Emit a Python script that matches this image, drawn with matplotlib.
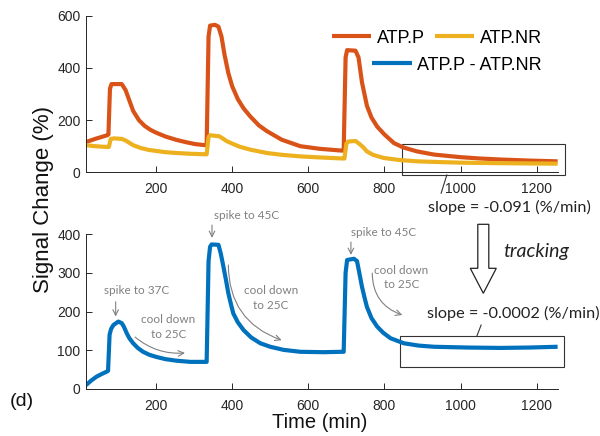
import matplotlib
matplotlib.use("Agg")
import matplotlib.pyplot as plt
from matplotlib.patches import Rectangle, FancyArrow

plt.rcParams['font.family'] = ['Liberation Sans', 'DejaVu Sans']

# ATP.P (top, orange)
t_p = [16, 40, 72, 75, 79, 83, 110, 120, 130, 140, 155, 170, 185, 200, 225, 254, 280, 303, 329,
       333, 338, 342, 355, 364, 372, 380, 390, 400, 415, 430, 447, 470, 491, 530, 579, 630, 689,
       693, 698, 702, 724, 732, 741, 754, 766, 781, 800, 825, 850, 886, 930, 1000, 1050, 1105, 1180, 1255]
atp_p = [116, 128, 142, 145, 320, 338, 338, 315, 275, 235, 200, 178, 163, 152, 137, 124, 115, 108, 104,
         104, 520, 562, 565, 558, 520, 450, 380, 330, 280, 245, 215, 180, 158, 125, 100, 90, 83,
         84, 440, 468, 466, 440, 345, 255, 210, 175, 145, 112, 95, 80, 68, 58, 53, 49, 45, 42]

# ATP.NR (top, yellow)
t_nr = [16, 40, 72, 76, 81, 90, 110, 120, 130, 140, 160, 180, 200, 225, 254, 290, 329,
        333, 338, 342, 366, 375, 385, 400, 420, 447, 491, 530, 579, 630, 689,
        695, 700, 705, 724, 735, 745, 754, 770, 798, 840, 886, 950, 1000, 1100, 1255]
atp_nr = [104, 100, 97, 97, 128, 130, 128, 122, 113, 104, 93, 86, 82, 77, 74, 71, 69,
          69, 135, 142, 138, 130, 120, 110, 98, 87, 74, 67, 61, 57, 53,
          53, 110, 118, 120, 108, 95, 80, 67, 55, 47, 42, 39, 37, 35, 33]

# ATP.P - ATP.NR (bottom, blue)
t_d = [16, 30, 44, 60, 71, 74, 78, 82, 88, 101, 110, 116, 123, 130, 140, 152, 166, 183, 200, 225, 254, 290, 329,
       333, 338, 342, 346, 364, 370, 377, 384, 390, 397, 403, 415, 430, 450, 474, 500, 535, 579, 640, 689,
       693, 698, 702, 720, 728, 734, 741, 748, 754, 766, 781, 797, 816, 851, 890, 930, 1018, 1105, 1180, 1255]
atp_diff = [10, 22, 32, 40, 45, 47, 140, 155, 165, 174, 170, 160, 144, 131, 118, 106, 96, 88, 83, 77, 73, 70, 70,
            70, 330, 367, 373, 372, 350, 316, 280, 247, 218, 195, 172, 152, 133, 118, 109, 101, 96, 95, 96,
            96, 300, 333, 336, 330, 300, 264, 235, 212, 183, 161, 145, 131, 118, 112, 109, 107, 106, 107, 109]

x_ticks = [200, 400, 600, 800, 1000, 1200]
top_yticks = [0, 200, 400, 600]
bot_yticks = [0, 100, 200, 300, 400]

ORANGE = '#D95319'
YELLOW = '#EDB120'
BLUE = '#0072BD'
AXC = '#262626'
GREY = '#808080'
ANN_FONT = ['Lato', 'DejaVu Sans']

fig = plt.figure(figsize=(6, 4.36), dpi=100)
ax1 = fig.add_axes([0.1433, 0.6048, 0.7867, 0.3592])
ax2 = fig.add_axes([0.1433, 0.1078, 0.7867, 0.3555])

for ax in (ax1, ax2):
    ax.spines['top'].set_visible(False)
    ax.spines['right'].set_visible(False)
    for s in ('left', 'bottom'):
        ax.spines[s].set_color(AXC)
        ax.spines[s].set_linewidth(0.7)
    ax.set_xlim(16, 1256)
    ax.set_xticks(x_ticks)
    ax.tick_params(direction='in', length=4, width=0.7, colors=AXC, labelsize=10)
    ax.tick_params(axis='x', pad=7)
    ax.tick_params(axis='y', pad=4)

l1, = ax1.plot(t_p, atp_p, color=ORANGE, lw=3, solid_capstyle='butt')
l2, = ax1.plot(t_nr, atp_nr, color=YELLOW, lw=3, solid_capstyle='butt')
ax1.set_ylim(0, 600)
ax1.set_yticks(top_yticks)

l3, = ax2.plot(t_d, atp_diff, color=BLUE, lw=3, solid_capstyle='butt')
ax2.set_ylim(0, 400)
ax2.set_yticks(bot_yticks)

# legend: two right-aligned rows
leg1 = ax1.legend([l1, l2], ['ATP.P', 'ATP.NR'], ncol=2, frameon=False, fontsize=13,
                  handlelength=2.2, handletextpad=0.3, columnspacing=0.55, borderpad=0,
                  borderaxespad=0, loc='center right',
                  bbox_to_anchor=(5.42, (436 - 38) / 100), bbox_transform=fig.dpi_scale_trans)
ax1.add_artist(leg1)
ax1.legend([l3], ['ATP.P - ATP.NR'], frameon=False, fontsize=13,
           handlelength=2.2, handletextpad=0.3, borderpad=0, borderaxespad=0,
           loc='center right', bbox_to_anchor=(5.42, (436 - 65) / 100),
           bbox_transform=fig.dpi_scale_trans)

# slope boxes
ax1.add_patch(Rectangle((846, -10), 1275 - 846, 118, fill=False, ec='#333333', lw=0.8, clip_on=False))
ax1.plot([964, 949], [-10, -80], color='#333333', lw=0.8, clip_on=False)
ax1.text(1128, -133, 'slope = -0.091 (%/min)', ha='center', va='center', fontsize=11.7,
         family=ANN_FONT, color='#222222', clip_on=False)

ax2.add_patch(Rectangle((841, 56), 1273 - 841, 81, fill=False, ec='#333333', lw=0.8, clip_on=False))
ax2.plot([1043, 1054], [137, 165], color='#333333', lw=0.8, clip_on=False)
ax2.text(1138, 194, 'slope = -0.0002 (%/min)', ha='center', va='center', fontsize=11.7,
         family=ANN_FONT, color='#222222', clip_on=False)

# big hollow arrow + tracking
fig.patches.append(FancyArrow(4.833, 2.117, 0, -0.69, width=0.11, head_width=0.26, head_length=0.25,
                              length_includes_head=True, fc='white', ec='#222222', lw=0.9,
                              transform=fig.dpi_scale_trans, figure=fig))
ax2.text(1200, 356, 'tracking', style='italic', ha='center', va='center', fontsize=14,
         family=ANN_FONT, color='#222222', clip_on=False)

# grey annotations
spikes = [('spike to 37C', 150, 253, 94, 225, 187),
          ('spike to 45C', 439, 449, 347, 423, 390),
          ('spike to 45C', 797, 405, 712, 379, 346)]
for label, tx, ty, ax_x, y0, y1 in spikes:
    ax2.text(tx, ty, label, ha='center', va='center', fontsize=8.5, family=ANN_FONT,
             color=GREY, clip_on=False)
    ax2.annotate('', xy=(ax_x, y1), xytext=(ax_x, y0), annotation_clip=False,
                 arrowprops=dict(arrowstyle='->', color=GREY, lw=0.8, shrinkA=0, shrinkB=0))

cools = [(232, 160, (145, 134), (276, 93), 0.2),
         (502, 235, (390, 320), (530, 126), 0.35),
         (845, 288, (768, 299), (847, 191), 0.35)]
for tx, ty, a, b, rad in cools:
    ax2.text(tx, ty, 'cool down\nto 25C', ha='center', va='center', fontsize=8.5,
             family=ANN_FONT, color=GREY, linespacing=1.4, clip_on=False)
    ax2.annotate('', xy=b, xytext=a, annotation_clip=False,
                 arrowprops=dict(arrowstyle='->', color=GREY, lw=0.8, shrinkA=0, shrinkB=0,
                                 connectionstyle='arc3,rad=%s' % rad))

fig.text(0.0717, 0.543, 'Signal Change (%)', rotation=90, ha='center', va='center',
         fontsize=16, color='#111111')
ax2.set_xlabel('Time (min)', fontsize=14.5, color='#111111')
ax2.xaxis.set_label_coords(0.496, -0.155)
fig.text(0.036, 0.078, '(d)', ha='center', va='center', fontsize=14, color='#111111')

fig.savefig('out.png', dpi=100)
